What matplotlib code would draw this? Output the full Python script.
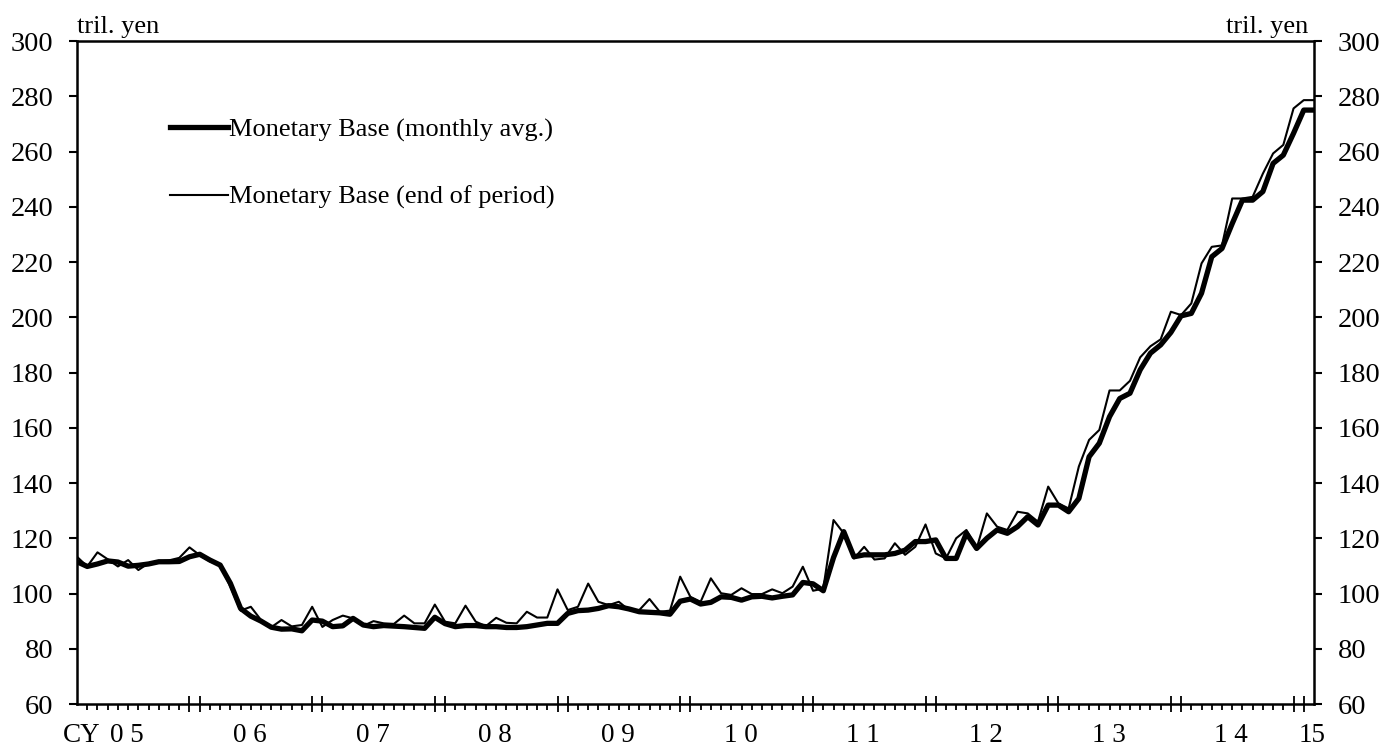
import numpy as np
import matplotlib.pyplot as plt

plt.rcParams['font.family'] = ['Liberation Serif', 'DejaVu Serif']

# monthly data, Jan 2005 .. Feb 2015 (tril. yen)
mb_avg = [
    111.5, 109.8, 110.7, 111.8, 111.4, 109.9, 110.2, 110.7, 111.5, 111.5, 111.6, 113.3,  # 2005
    114.2, 112.1, 110.3, 103.7, 94.6, 91.8, 90.0, 87.8, 87.1, 87.2, 86.5, 90.4,  # 2006
    90.0, 88.0, 88.3, 91.0, 88.6, 88.0, 88.4, 88.2, 88.0, 87.7, 87.4, 91.4,  # 2007
    89.1, 88.0, 88.4, 88.4, 88.0, 88.0, 87.7, 87.7, 88.0, 88.6, 89.2, 89.2,  # 2008
    92.8, 93.8, 94.0, 94.6, 95.6, 95.2, 94.4, 93.4, 93.2, 93.0, 92.5, 97.2,  # 2009
    98.0, 96.2, 96.8, 98.8, 98.6, 97.6, 98.8, 99.0, 98.4, 99.0, 99.5, 104.0,  # 2010
    103.5, 101.0, 113.0, 122.4, 113.3, 114.0, 114.0, 114.0, 114.5, 115.7, 118.8, 118.8,  # 2011
    119.4, 112.7, 112.7, 121.8, 116.3, 120.0, 123.0, 121.8, 124.2, 127.8, 124.8, 132.0,  # 2012
    132.0, 129.6, 134.4, 149.5, 154.4, 164.0, 170.6, 172.5, 181.0, 187.0, 190.0, 194.5,  # 2013
    200.5, 201.4, 208.7, 221.9, 224.9, 233.9, 242.4, 242.4, 245.5, 255.7, 258.7, 266.6,  # 2014
    275.0, 275.0,  # 2015
]
mb_eop = [
    113.3, 109.8, 114.9, 112.4, 109.8, 112.1, 108.5, 111.0, 111.6, 112.0, 112.9, 116.7,  # 2005
    113.9, 111.6, 110.3, 102.5, 93.8, 95.2, 90.4, 87.8, 90.4, 88.1, 88.6, 95.2,  # 2006
    87.9, 90.4, 92.0, 91.0, 88.3, 90.0, 89.2, 89.0, 92.0, 89.2, 89.2, 96.0,  # 2007
    89.8, 89.2, 95.6, 89.8, 88.2, 91.2, 89.4, 89.2, 93.4, 91.3, 91.3, 101.5,  # 2008
    94.0, 95.2, 103.6, 97.0, 95.8, 97.0, 94.0, 94.0, 98.0, 93.4, 93.8, 106.1,  # 2009
    98.8, 97.0, 105.5, 100.1, 99.5, 101.9, 99.8, 99.8, 101.5, 100.1, 102.5, 109.7,  # 2010
    101.0, 101.8, 126.6, 121.8, 112.7, 116.9, 112.3, 112.7, 118.2, 114.0, 116.9, 125.0,  # 2011
    114.5, 112.7, 120.0, 123.0, 116.3, 129.0, 124.2, 123.0, 129.6, 129.0, 126.0, 138.7,  # 2012
    132.6, 130.8, 146.0, 155.6, 159.2, 173.5, 173.5, 177.0, 185.5, 189.5, 192.0, 202.0,  # 2013
    200.8, 205.0, 219.5, 225.5, 226.0, 243.0, 243.0, 243.6, 252.0, 259.3, 262.4, 275.6,  # 2014
    278.6, 278.6,  # 2015
]
year_labels = ['0 5', '0 6', '0 7', '0 8', '0 9', '1 0', '1 1', '1 2', '1 3', '1 4', '15']
series_labels = ['Monetary Base (monthly avg.)', 'Monetary Base (end of period)']
unit = 'tril. yen'

months = np.arange(len(mb_avg))
n_years = len(year_labels) - 1

fig = plt.figure(figsize=(13.83, 7.54), dpi=100)
ax = fig.add_axes([0.0557, 0.0663, 0.8944, 0.8793])

ax.plot(months, mb_avg, color='black', lw=3.8, label=series_labels[0])
ax.plot(months, mb_eop, color='black', lw=1.5, label=series_labels[1])

ax.set_xlim(0, months[-1])
ax.set_ylim(60, 300)
ax.set_yticks(np.arange(60, 301, 20))

# year boundaries marked by a pair of tall ticks, months by short ones
major = []
for k in range(1, n_years + 1):
    major += [12 * k - 1, 12 * k]
minor = [m for m in months[1:-1] if m not in major]
ax.set_xticks(major)
ax.set_xticks(minor, minor=True)
ax.tick_params(axis='x', which='major', direction='inout', length=11,
               width=1.3, labelbottom=False)
ax.tick_params(axis='x', which='minor', direction='out', length=4.5,
               width=1.3, labelbottom=False)
ax.tick_params(axis='y', direction='out', length=6, width=1.5, left=True,
               right=True, labelleft=True, labelright=True, pad=11,
               labelsize=20.5)
for sp in ax.spines.values():
    sp.set_linewidth(1.8)

xt = ax.get_xaxis_transform()
for k, lab in enumerate(year_labels):
    xpos = 12 * k + 4.9 if k < n_years else months[-1] - 0.2
    ax.text(xpos, -0.048, lab, transform=xt, ha='center', va='center',
            fontsize=19.5)
ax.text(2.25, -0.048, 'CY', transform=xt, ha='right', va='center',
        fontsize=19.5)

ax.text(0.0, 1.004, unit, transform=ax.transAxes, ha='left', va='bottom',
        fontsize=19)
ax.text(0.995, 1.004, unit, transform=ax.transAxes, ha='right', va='bottom',
        fontsize=19)

ax.legend(loc='upper left', bbox_to_anchor=(0.075, 0.884), frameon=False,
          borderpad=0, borderaxespad=0, handlelength=2.2, handletextpad=0.05,
          labelspacing=1.65, fontsize=19)

fig.savefig('out.png', dpi=100)
